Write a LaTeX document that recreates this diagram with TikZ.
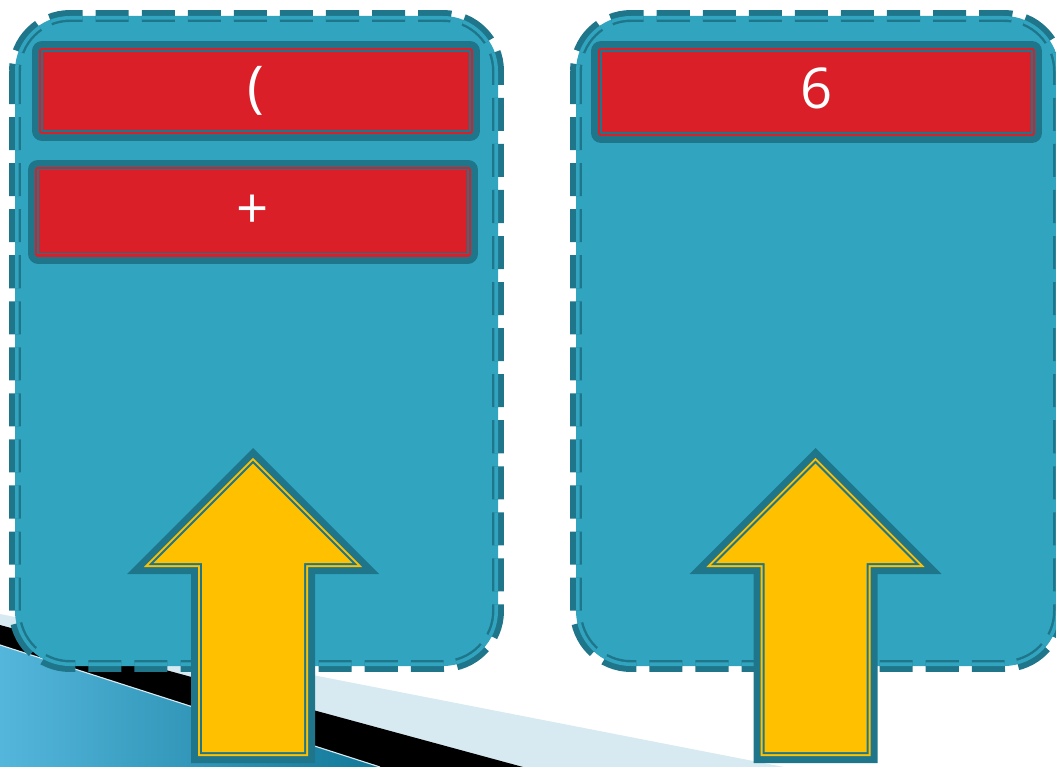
\documentclass[tikz,border=0pt]{standalone}
\usepackage{fontspec}
\setmainfont{Open Sans}
\usepackage{tikz}
\usetikzlibrary{positioning}
\definecolor{StackTeal}{RGB}{49,165,192}
\definecolor{FrameTeal}{RGB}{31,118,138}
\definecolor{TokenRed}{RGB}{218,31,40}
\definecolor{ArrowGold}{RGB}{255,192,0}
\definecolor{PaleBand}{RGB}{216,234,241}
\definecolor{SlideBlueL}{RGB}{84,182,219}
\definecolor{SlideBlueR}{RGB}{16,120,152}
\tikzset{
  stackfill/.style={fill=StackTeal,rounded corners=1.375cm},
  stackrim/.style={draw=FrameTeal,line width=8.5pt,dash pattern=on 23.5pt off 9.25pt,
    rounded corners=1.375cm},
  stackgap/.style={stackrim,draw=StackTeal,line width=5pt},
  token/.style={rectangle,fill=TokenRed,draw=FrameTeal,line width=1.1pt,inner sep=0pt,
    line join=round,
    preaction={draw=FrameTeal,line width=14.2pt},
    preaction={draw=TokenRed,line width=4.3pt},
    text=white,font=\fontsize{40}{48}\selectfont},
  goldfill/.style={fill=ArrowGold},
  rimfill/.style={fill=FrameTeal}
}
% up arrow outline: centre x, inset
\newcommand{\uparrowpath}[2]{({#1},{448+1.414*#2}) -- ({#1+126-2.414*#2},{574-#2})
  -- ({#1+62-#2},{574-#2}) -- ({#1+62-#2},{763-#2}) -- ({#1-62+#2},{763-#2})
  -- ({#1-62+#2},{574-#2}) -- ({#1-126+2.414*#2},{574-#2}) -- cycle}

\begin{document}
\begin{tikzpicture}[x=0.025cm,y=-0.025cm]
  \useasboundingbox (0,0) rectangle (1056,767);
  \clip (0,0) rectangle (1056,767);

  \fill[PaleBand] (0,614) -- (784,767) -- (0,767) -- cycle;
  \fill[black] (0,625) -- (523,767) -- (0,767) -- cycle;
  \shade[left color=SlideBlueL,right color=SlideBlueR] (0,645) -- (380,767) -- (0,767) -- cycle;
  \draw[PaleBand,line width=0.8pt] (0,645) -- (380,767);

  \foreach \lx in {15,576} {
    \path[stackfill] (\lx,16) rectangle ({\lx+483},666);
    \draw[stackrim] (\lx,16) rectangle ({\lx+483},666);
    \begin{scope}
      \clip[rounded corners=1.375cm] (\lx,16) rectangle ({\lx+483},666);
      \draw[stackgap] (\lx,16) rectangle ({\lx+483},666);
    \end{scope}
  }

  \node[token,minimum width=10.7cm,minimum height=2cm] (lparen) at (256,91) {(};
  \node[token,minimum width=10.75cm,minimum height=2.1cm,below=0.925cm of lparen,xshift=-0.075cm] (plus) {+};
  \node[token,minimum width=10.775cm,minimum height=2.05cm,text depth=6pt] (six) at (816.5,92) {6};

  \foreach \cx in {253,815.5} {
    \fill[rimfill] \uparrowpath{\cx}{0};
    \fill[goldfill] \uparrowpath{\cx}{7};
    \fill[rimfill] \uparrowpath{\cx}{9};
    \fill[goldfill] \uparrowpath{\cx}{11};
  }
\end{tikzpicture}
\end{document}
